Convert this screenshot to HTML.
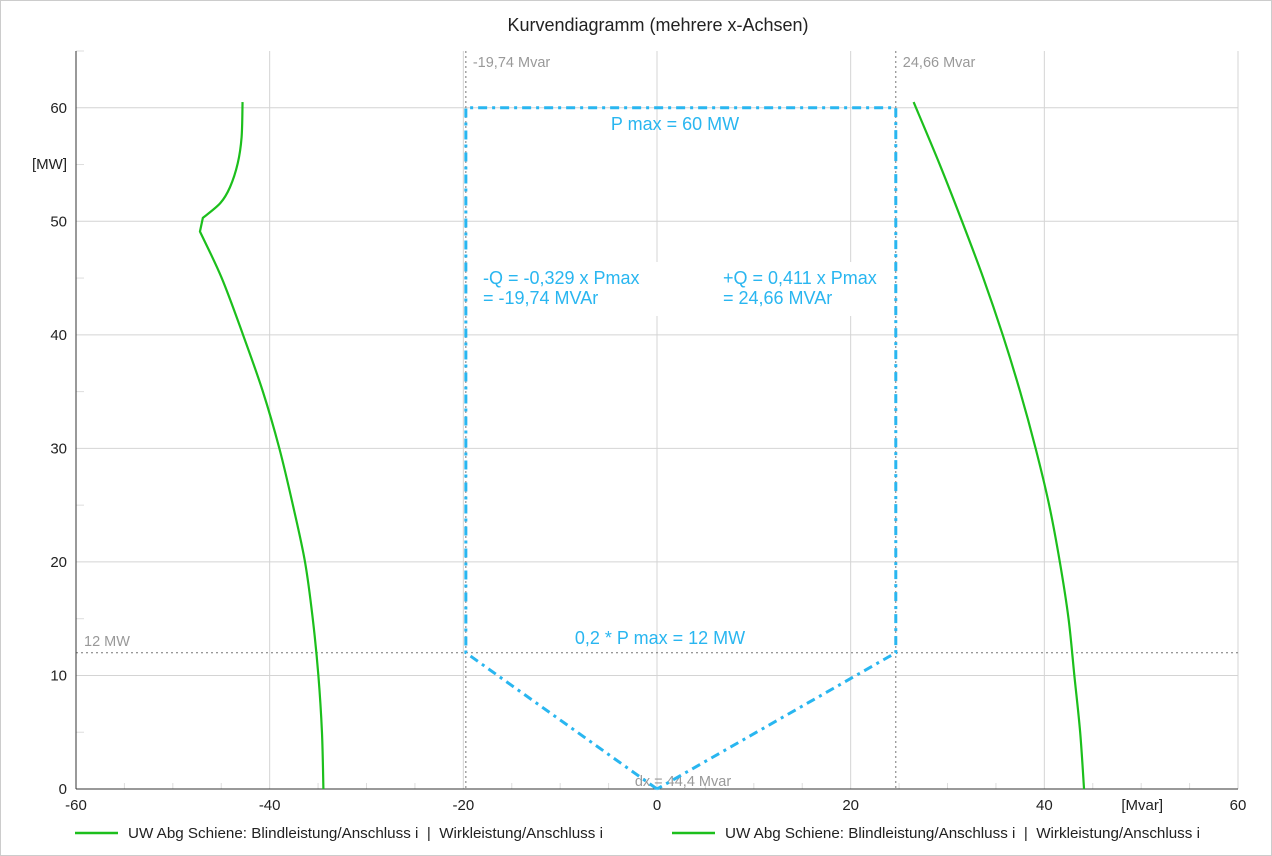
<!DOCTYPE html>
<html><head><meta charset="utf-8"><style>
body{margin:0;background:#fff;font-family:"Liberation Sans",sans-serif;}
#wrap{position:relative;width:1272px;height:856px;overflow:hidden;}
svg text{font-family:"Liberation Sans",sans-serif;}
</style></head><body>
<div id="wrap">
<svg id="chart" width="1272" height="856"></svg>
</div>
<script>
const xTicks=[-60,-40,-20,0,20,40,60];
const yTicks=[0,10,20,30,40,50,60];
const leftQ=[-34.45,-34.6,-34.97,-35.55,-36.35,-37.6,-39.0,-40.7,-42.75,-44.95,-47.2,-46.9,-45.1,-44.1,-43.3,-42.9,-42.8];
const leftP=[0,5,10,15,20,25,30,35,40,45,49.1,50.3,51.6,53,55.1,57.4,60.5];
const rightQ=[44.1,43.7,43.1,42.5,41.6,40.5,39.1,37.5,35.7,33.7,31.5,29.2,26.5];
const rightP=[0,5,10,15,20,25,30,35,40,45,50,55,60.5];
const limitQ=[0,-19.74,-19.74,24.66,24.66,0];
const limitP=[0,12,60,60,12,0];
const refQ=[-19.74,24.66];
const refP=[12];
const ns="http://www.w3.org/2000/svg";
const svg=document.getElementById('chart');
const X0=76,X1=1238,Y0=789,Y1=51;
const sx=v=>X0+(v+60)/120*(X1-X0);
const sy=v=>Y0-v/65*(Y0-Y1);
function el(t,a,txt){const e=document.createElementNS(ns,t);for(const k in a)e.setAttribute(k,a[k]);if(txt!=null)e.textContent=txt;svg.appendChild(e);return e;}
let e;
e=el('rect',{x:0.5,y:0.5,width:1271,height:855,fill:'none',stroke:'#ccc'});


e=el('text',{x:658,y:31,'text-anchor':'middle','font-size':18,fill:'#222'},'Kurvendiagramm (mehrere x-Achsen)');


xTicks.forEach(v=>{
 if(v>-60){e=el('line',{x1:sx(v),x2:sx(v),y1:Y1,y2:Y0,stroke:'#d4d4d4'});
 
 }
 e=el('text',{x:sx(v),y:810,'text-anchor':'middle','font-size':15,fill:'#222'},String(v));
 
 
});
for(let v=-55;v<60;v+=5){if(v%20===0)continue;
 e=el('line',{x1:sx(v),x2:sx(v),y1:Y0-6,y2:Y0,stroke:'#ddd'});
 
 }
yTicks.forEach(v=>{
 if(v>0){e=el('line',{x1:X0,x2:X1,y1:sy(v),y2:sy(v),stroke:'#d4d4d4'});
 
 }
 e=el('text',{x:67,y:sy(v)+5,'text-anchor':'end','font-size':15,fill:'#222'},String(v));
 
 
});
for(let v=5;v<=65;v+=5){if(v%10===0)continue;
 e=el('line',{x1:X0,x2:X0+8,y1:sy(v),y2:sy(v),stroke:'#ddd'});
 
 }
e=el('text',{x:67,y:169,'text-anchor':'end','font-size':15,fill:'#222'},'[MW]');


e=el('text',{x:1163,y:810,'text-anchor':'end','font-size':15,fill:'#222'},'[Mvar]');


refQ.forEach((q,i)=>{
 e=el('line',{x1:sx(q),x2:sx(q),y1:Y1,y2:Y0,stroke:'#777','stroke-dasharray':'2,3'});
 
 
 e=el('text',{x:sx(q)+7,y:67,'font-size':14.5,fill:'#999'},String(q).replace('.',',')+' Mvar');
 
 
});
refP.forEach(p=>{
 e=el('line',{x1:X0,x2:X1,y1:sy(p),y2:sy(p),stroke:'#777','stroke-dasharray':'2,3'});
 
 
 e=el('text',{x:84,y:sy(p)-7,'font-size':14.5,fill:'#999'},p+' MW');
 
 
});
e=el('rect',{x:478,y:262,width:412,height:54,fill:'#fff'});


e=el('line',{x1:X0,x2:X0,y1:Y1,y2:Y0,stroke:'#333'});


e=el('line',{x1:X0,x2:X1,y1:Y0,y2:Y0,stroke:'#333'});


e=el('text',{x:683,y:786,'text-anchor':'middle','font-size':14.5,fill:'#999'},'dx = 44,4 Mvar');


e=el('polyline',{points:limitQ.map((q,i)=>sx(q)+','+sy(limitP[i])).join(' '),fill:'none',stroke:'#29b6f0','stroke-width':3,'stroke-dasharray':'9,5,3,5'});


function smooth(Q,P,kinks){
 const pts=Q.map((q,i)=>[sx(q),sy(P[i])]);
 let d='M'+pts[0][0]+','+pts[0][1];
 for(let i=0;i<pts.length-1;i++){
  const p1=pts[i],p2=pts[i+1];
  const p0=(kinks.includes(i)||i===0)?p1:pts[i-1];
  const p3=(kinks.includes(i+1)||i+2>=pts.length)?p2:pts[i+2];
  const c1=[p1[0]+(p2[0]-p0[0])/6,p1[1]+(p2[1]-p0[1])/6];
  const c2=[p2[0]-(p3[0]-p1[0])/6,p2[1]-(p3[1]-p1[1])/6];
  d+=' C'+c1[0]+','+c1[1]+' '+c2[0]+','+c2[1]+' '+p2[0]+','+p2[1];
 }
 return d;
}
function curve(Q,P,kinks,name){
 e=el('path',{d:smooth(Q,P,kinks),fill:'none',stroke:'#1cbf1c','stroke-width':2.2,'stroke-linejoin':'round'});
 
 
}
curve(leftQ,leftP,[10,11],'left-capability-curve');
curve(rightQ,rightP,[],'right-capability-curve');
const blue='#29b6f0';
[['P max = 60 MW',675,130,'middle','pmax-label'],['0,2 * P max = 12 MW',660,644,'middle','pmin-label'],
 ['-Q = -0,329 x Pmax',483,284,'start','neg-q-label'],['= -19,74 MVAr',483,304,'start','neg-q-value'],
 ['+Q = 0,411 x Pmax',723,284,'start','pos-q-label'],['= 24,66 MVAr',723,304,'start','pos-q-value']].forEach(t=>{
 e=el('text',{x:t[1],y:t[2],'text-anchor':t[3],'font-size':18,fill:blue},t[0]);
 
 
});
[[75,'legend-entry-1'],[672,'legend-entry-2']].forEach(l=>{
 e=el('line',{x1:l[0],x2:l[0]+43,y1:833,y2:833,stroke:'#1cbf1c','stroke-width':2.5});
 
 
 e=el('text',{x:l[0]+53,y:838,'font-size':15.2,fill:'#222'},'UW Abg Schiene: Blindleistung/Anschluss i  |  Wirkleistung/Anschluss i');
 
 
 e.style.whiteSpace='pre';
});
</script>
</body></html>
